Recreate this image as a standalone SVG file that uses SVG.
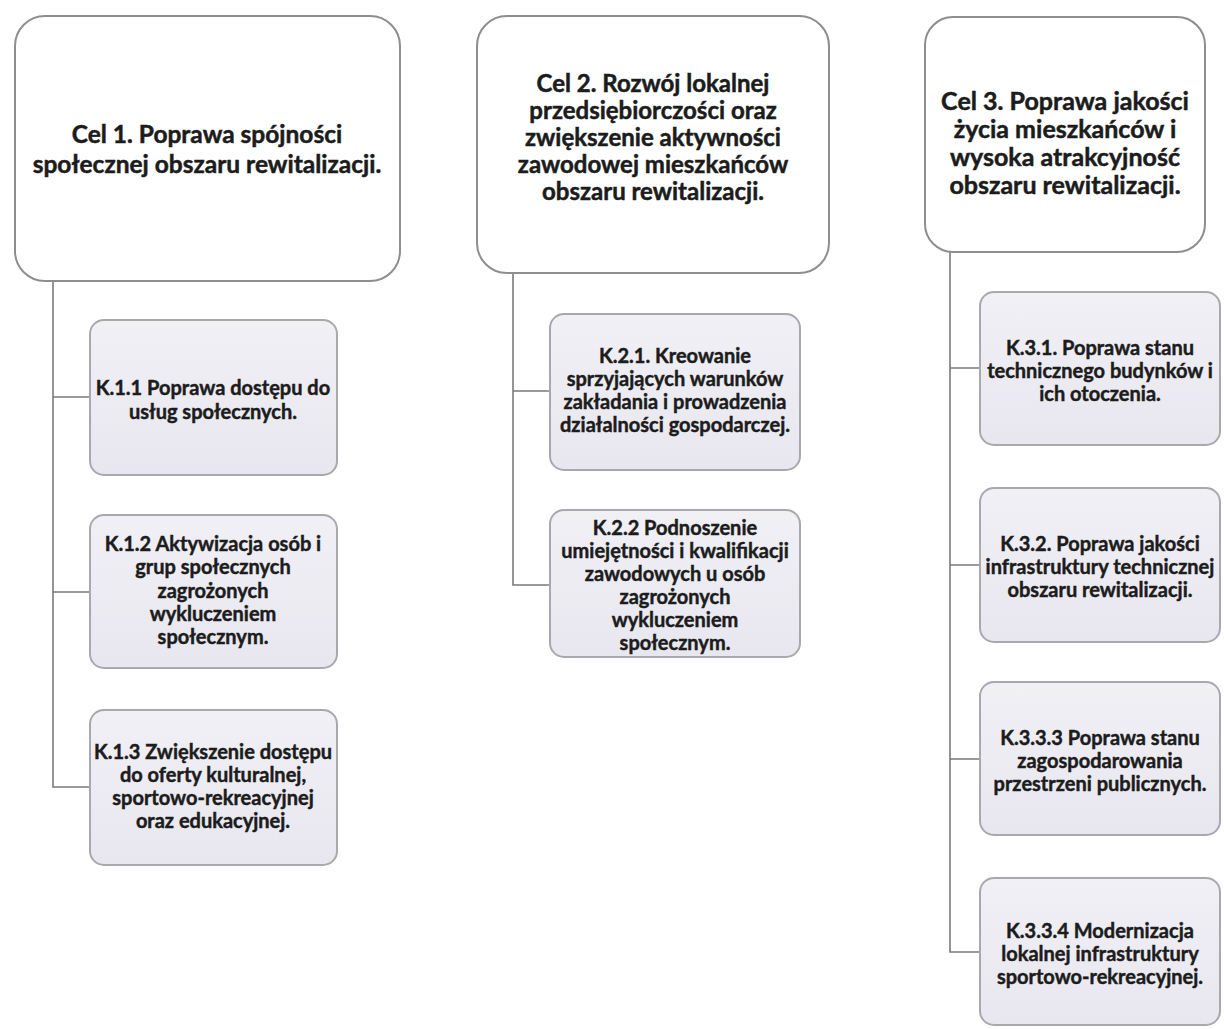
<svg xmlns="http://www.w3.org/2000/svg" width="1224" height="1029" viewBox="0 0 1224 1029">
<defs>
<linearGradient id="kg" x1="0" y1="0" x2="0" y2="1">
<stop offset="0" stop-color="#f1f0f5"/>
<stop offset="1" stop-color="#e8e7ef"/>
</linearGradient>
<style>
.goal{fill:#ffffff;stroke:#8e8e8e;stroke-width:2}
.kid{fill:url(#kg);stroke:#a9a9ad;stroke-width:2}
.gt{font-family:Lato,"Liberation Sans",sans-serif;font-weight:bold;font-size:24px;fill:#1c1c1c;stroke:#1c1c1c;stroke-width:0.5;text-anchor:middle}
.kt{font-family:Lato,"Liberation Sans",sans-serif;font-weight:bold;font-size:20px;fill:#1c1c1c;stroke:#1c1c1c;stroke-width:0.45;text-anchor:middle}
.conn{fill:none;stroke:#7a7a7a;stroke-width:1.6}
</style>
</defs>
<rect width="1224" height="1029" fill="#ffffff"/>
<g id="connectors">
<path class="conn" d="M53 281 V787 H90 M53 397 H90 M53 592 H90"/>
<path class="conn" d="M513 273 V585 H550 M513 391 H550"/>
<path class="conn" d="M950 252 V952 H980 M950 368 H980 M950 565 H980 M950 759 H980"/>
</g>
<g id="cel1">
<rect class="goal" x="15" y="16" width="385" height="265" rx="30"/>
<text class="gt" x="207" y="143" style="font-size:24.5px">Cel 1. Poprawa spójności</text>
<text class="gt" x="207" y="173" style="font-size:24.5px">społecznej obszaru rewitalizacji.</text>
</g>
<g id="cel2">
<rect class="goal" x="477" y="16" width="352" height="257" rx="30"/>
<text class="gt" x="653" y="92">Cel 2. Rozwój lokalnej</text>
<text class="gt" x="653" y="119">przedsiębiorczości oraz</text>
<text class="gt" x="653" y="146">zwiększenie aktywności</text>
<text class="gt" x="653" y="173">zawodowej mieszkańców</text>
<text class="gt" x="653" y="200">obszaru rewitalizacji.</text>
</g>
<g id="cel3">
<rect class="goal" x="925" y="17" width="280" height="235" rx="28"/>
<text class="gt" x="1065" y="110" style="font-size:25px">Cel 3. Poprawa jakości</text>
<text class="gt" x="1065" y="138" style="font-size:25px">życia mieszkańców i</text>
<text class="gt" x="1065" y="166" style="font-size:25px">wysoka atrakcyjność</text>
<text class="gt" x="1065" y="194" style="font-size:25px">obszaru rewitalizacji.</text>
</g>
<g id="k11">
<rect class="kid" x="90" y="320" width="247" height="155" rx="14"/>
<text class="kt" x="213" y="395">K.1.1 Poprawa dostępu do</text>
<text class="kt" x="213" y="419">usług społecznych.</text>
</g>
<g id="k12">
<rect class="kid" x="90" y="515" width="247" height="153" rx="14"/>
<text class="kt" x="213" y="551">K.1.2 Aktywizacja osób i</text>
<text class="kt" x="213" y="574">grup społecznych</text>
<text class="kt" x="213" y="598">zagrożonych</text>
<text class="kt" x="213" y="621">wykluczeniem</text>
<text class="kt" x="213" y="644">społecznym.</text>
</g>
<g id="k13">
<rect class="kid" x="90" y="710" width="247" height="155" rx="14"/>
<text class="kt" x="213" y="759">K.1.3 Zwiększenie dostępu</text>
<text class="kt" x="213" y="782">do oferty kulturalnej,</text>
<text class="kt" x="213" y="805">sportowo-rekreacyjnej</text>
<text class="kt" x="213" y="828">oraz edukacyjnej.</text>
</g>
<g id="k21">
<rect class="kid" x="550" y="314" width="250" height="156" rx="14"/>
<text class="kt" x="675" y="363">K.2.1. Kreowanie</text>
<text class="kt" x="675" y="386">sprzyjających warunków</text>
<text class="kt" x="675" y="409">zakładania i prowadzenia</text>
<text class="kt" x="675" y="432">działalności gospodarczej.</text>
</g>
<g id="k22">
<rect class="kid" x="550" y="510" width="250" height="147" rx="14"/>
<text class="kt" x="675" y="535">K.2.2 Podnoszenie</text>
<text class="kt" x="675" y="558">umiejętności i kwalifikacji</text>
<text class="kt" x="675" y="581">zawodowych u osób</text>
<text class="kt" x="675" y="604">zagrożonych</text>
<text class="kt" x="675" y="627">wykluczeniem</text>
<text class="kt" x="675" y="650">społecznym.</text>
</g>
<g id="k31">
<rect class="kid" x="980" y="292" width="240" height="153" rx="14"/>
<text class="kt" x="1100" y="355">K.3.1. Poprawa stanu</text>
<text class="kt" x="1100" y="378">technicznego budynków i</text>
<text class="kt" x="1100" y="401">ich otoczenia.</text>
</g>
<g id="k32">
<rect class="kid" x="980" y="488" width="240" height="154" rx="14"/>
<text class="kt" x="1100" y="551">K.3.2. Poprawa jakości</text>
<text class="kt" x="1100" y="574">infrastruktury technicznej</text>
<text class="kt" x="1100" y="597">obszaru rewitalizacji.</text>
</g>
<g id="k33">
<rect class="kid" x="980" y="682" width="240" height="153" rx="14"/>
<text class="kt" x="1100" y="745">K.3.3.3 Poprawa stanu</text>
<text class="kt" x="1100" y="768">zagospodarowania</text>
<text class="kt" x="1100" y="791">przestrzeni publicznych.</text>
</g>
<g id="k34">
<rect class="kid" x="980" y="878" width="240" height="147" rx="14"/>
<text class="kt" x="1100" y="938">K.3.3.4 Modernizacja</text>
<text class="kt" x="1100" y="961">lokalnej infrastruktury</text>
<text class="kt" x="1100" y="984">sportowo-rekreacyjnej.</text>
</g>
</svg>
